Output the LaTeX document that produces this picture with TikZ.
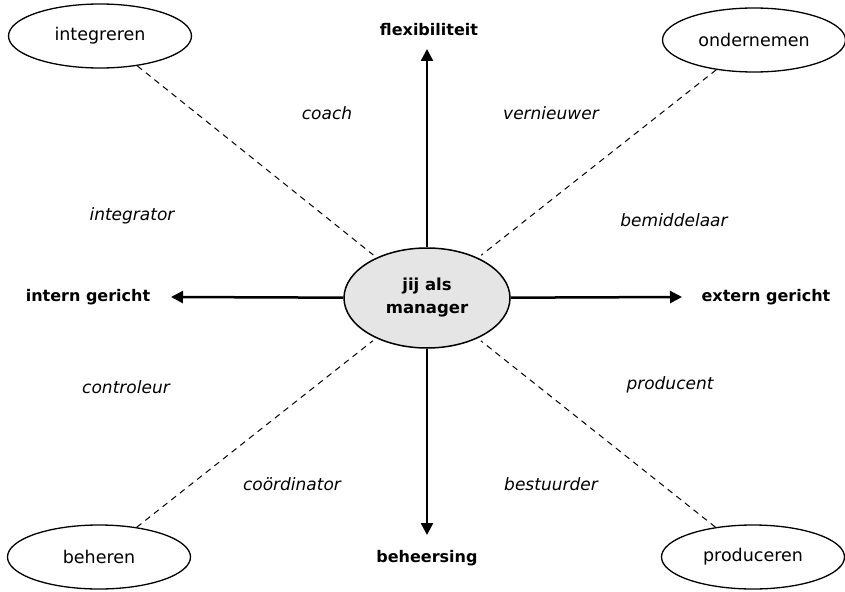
\documentclass[tikz,border=0pt]{standalone}
\usepackage{fontspec}
\setmainfont{DejaVu Sans}
\usetikzlibrary{arrows.meta,shapes.geometric}
\begin{document}
\begin{tikzpicture}[x=1pt,y=-1pt,
  outer/.style={draw,ellipse,line width=1.3pt,minimum width=183pt,minimum height=64pt,inner sep=0pt,font=\fontsize{17.5}{20}\selectfont},
  centre/.style={draw,ellipse,line width=1.5pt,fill=black!10,minimum width=166pt,minimum height=100pt,inner sep=0pt,align=center,font=\bfseries\fontsize{16.5}{23}\selectfont},
  axis/.style={line width=2.5pt,-{Triangle[length=12pt,width=12pt]}},
  axlabel/.style={font=\bfseries\fontsize{16}{18}\selectfont},
  role/.style={font=\itshape\fontsize{17}{19}\selectfont},
  diag/.style={line width=1pt,dash pattern=on 6pt off 5pt,shorten >=4pt}]
\useasboundingbox (0,0) rectangle (845,591);
\node[centre] (c) at (427,298) {jij als\\manager};
\node[outer] (il) at (100,36) {integreren};
\node[outer] (ir) at (754,40) {ondernemen};
\node[outer] (bl) at (99,557) {beheren};
\node[outer] (br) at (753,557) {produceren};
\node[axlabel] (top) at (429,30) {flexibiliteit};
\node[axlabel] (bot) at (427,558) {beheersing};
\node[axlabel] (lft) at (88,297) {intern gericht};
\node[axlabel] (rgt) at (766,297) {extern gericht};
\coordinate (ttip) at (427,49);
\coordinate (btip) at (427,535);
\coordinate (ltip) at (171,297);
\coordinate (rtip) at (682,297);
\draw[axis] (c) -- (ttip);
\draw[axis] (c) -- (btip);
\draw[axis] (c) -- (ltip);
\draw[axis] (c) -- (rtip);
\draw[diag] (il) -- (c);
\draw[diag] (ir) -- (c);
\draw[diag] (bl) -- (c);
\draw[diag] (br) -- (c);
\node[role] (r1) at (327,113) {coach};
\node[role] (r2) at (551,113) {vernieuwer};
\node[role] (r3) at (132,216) {integrator};
\node[role] (r4) at (674,220) {bemiddelaar};
\node[role] (r5) at (126,387) {controleur};
\node[role] (r6) at (670,385) {producent};
\node[role] (r7) at (292,484) {coördinator};
\node[role] (r8) at (551,484) {bestuurder};
\end{tikzpicture}
\end{document}
